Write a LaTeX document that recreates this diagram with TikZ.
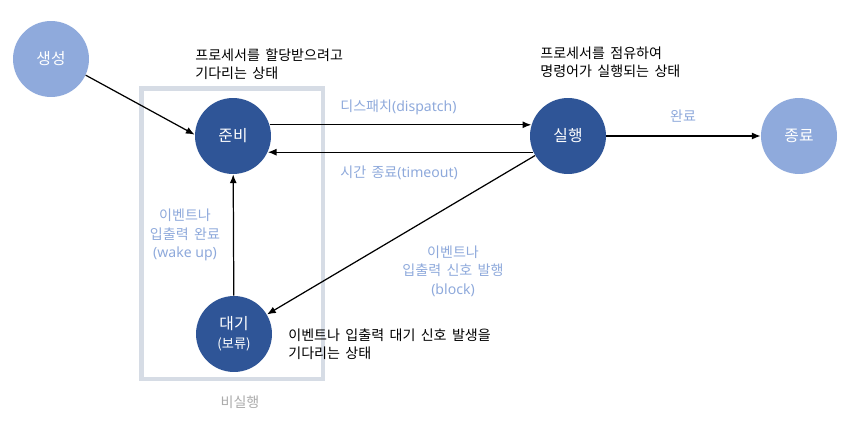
\documentclass[tikz,border=0pt]{standalone}
\usepackage{fontspec}
\setmainfont[WordSpace=1.7]{Noto Sans CJK KR}
\newfontfamily\latinfont{Noto Sans}
\usetikzlibrary{arrows.meta,positioning}

\definecolor{stateblue}{HTML}{2F5597}
\definecolor{endblue}{HTML}{8FAADC}
\definecolor{labelblue}{HTML}{8EA9DB}
\definecolor{boxgray}{HTML}{D6DCE5}
\definecolor{notegray}{HTML}{ABABAB}

\tikzset{
  state/.style={circle, fill=stateblue, text=white, minimum size=1.52cm, inner sep=0pt, font=\fontsize{9}{10}\selectfont},
  endstate/.style={state, fill=endblue},
  note/.style={font=\fontsize{8}{10.3}\selectfont, align=left, inner sep=0pt},
  trans/.style={font=\fontsize{8}{10.5}\selectfont, text=labelblue, align=center, inner sep=0pt},
  flow/.style={-{Latex[length=5pt,width=4pt]}, line width=0.7pt},
}

\begin{document}
\begin{tikzpicture}[x=0.02cm, y=-0.02cm]
    \useasboundingbox (0,0) rectangle (855,422);

    % Non-running group
    \draw[boxgray, line width=2.6pt] (141.5,88.5) rectangle (323,379);
    \node[font=\fontsize{8}{9}\selectfont, text=notegray, inner sep=0pt] (idle) at (240,402) {비실행};

    % States
    \node[endstate] (create) at (51,59) {생성};
    \node[state] (ready) at (233,136) {준비};
    \node[state] (run) at (568,136) {실행};
    \node[endstate] (exit) at (799,136) {종료};
    \node[state, align=center] (wait) at (234,334) {대기\\[1pt]{\fontsize{7.5}{9}\selectfont (보류)}};

    % Transitions
    \draw[flow] (create.-25) -- (ready.178);
    \draw[flow] (ready.17) -- (run.163);
    \draw[flow] (run.205) -- (ready.-25);
    \draw[flow] (run) -- (exit);
    \draw[flow] (wait) -- (ready);
    \draw[flow] (run) -- (wait);

    % Transition labels
    \node[trans, anchor=west] (dispatch) at (340,107) {디스패치{\latinfont (dispatch)}};
    \node[trans, anchor=west] (timeout) at (340,173) {시간 종료{\latinfont (timeout)}};
    \node[trans] (done) at (683,116) {완료};
    \node[trans] (wakeup) at (185,235) {이벤트나\\입출력 완료\\{\latinfont (wake up)}};
    \node[trans] (block) at (453,271) {이벤트나\\입출력 신호 발행\\{\latinfont (block)}};

    % State notes
    \node[note, anchor=west] (readynote) at (195,64) {프로세서를 할당받으려고\\기다리는 상태};
    \node[note, anchor=west] (runnote) at (540,62) {프로세서를 점유하여\\명령어가 실행되는 상태};
    \node[note, anchor=west] (waitnote) at (288,344) {이벤트나 입출력 대기 신호 발생을\\기다리는 상태};
\end{tikzpicture}
\end{document}
